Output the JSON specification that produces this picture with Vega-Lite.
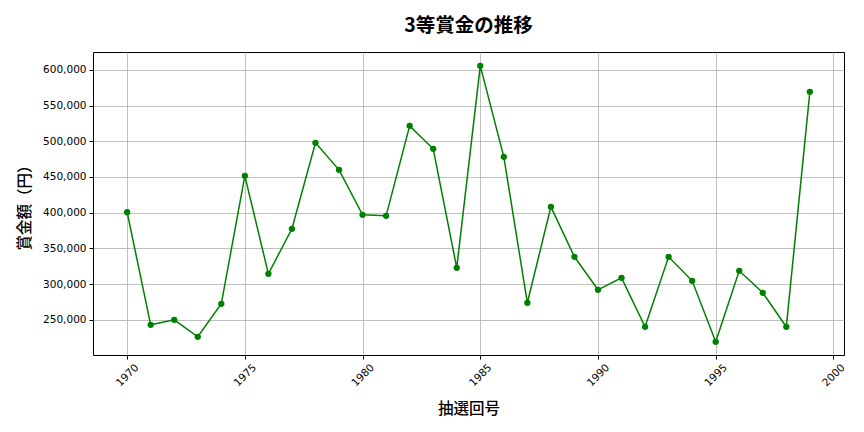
{
  "$schema": "https://vega.github.io/schema/vega-lite/v6.json",
  "autosize": {"type": "none"},
  "padding": {"left": 93, "top": 52, "right": 20, "bottom": 77},
  "width": 751,
  "height": 303,
  "background": "white",
  "title": {
    "text": "3等賞金の推移",
    "font": "Noto Sans CJK JP",
    "fontSize": 19.5,
    "fontWeight": "bold",
    "color": "#000",
    "offset": 16
  },
  "config": {
    "view": {"stroke": "#000", "strokeWidth": 1},
    "axis": {
      "labelFont": "DejaVu Sans",
      "labelFontSize": 10.5,
      "labelColor": "#000",
      "titleFont": "Noto Sans CJK JP",
      "titleFontSize": 15.5,
      "titleFontWeight": 500,
      "titleColor": "#000",
      "gridColor": "#b0b0b0",
      "gridWidth": 0.8,
      "gridOpacity": 1,
      "tickColor": "#000",
      "tickSize": 4,
      "domain": false
    }
  },
  "data": {
    "values": [
      {"draw": 1970, "prize": 400600},
      {"draw": 1971, "prize": 243000},
      {"draw": 1972, "prize": 250000},
      {"draw": 1973, "prize": 226200},
      {"draw": 1974, "prize": 272400},
      {"draw": 1975, "prize": 451600},
      {"draw": 1976, "prize": 314400},
      {"draw": 1977, "prize": 377400},
      {"draw": 1978, "prize": 497800},
      {"draw": 1979, "prize": 460000},
      {"draw": 1980, "prize": 397000},
      {"draw": 1981, "prize": 395600},
      {"draw": 1982, "prize": 521600},
      {"draw": 1983, "prize": 489400},
      {"draw": 1984, "prize": 322800},
      {"draw": 1985, "prize": 605600},
      {"draw": 1986, "prize": 478200},
      {"draw": 1987, "prize": 273800},
      {"draw": 1988, "prize": 408200},
      {"draw": 1989, "prize": 338200},
      {"draw": 1990, "prize": 292000},
      {"draw": 1991, "prize": 308800},
      {"draw": 1992, "prize": 240200},
      {"draw": 1993, "prize": 338200},
      {"draw": 1994, "prize": 304600},
      {"draw": 1995, "prize": 219200},
      {"draw": 1996, "prize": 318600},
      {"draw": 1997, "prize": 287800},
      {"draw": 1998, "prize": 240200},
      {"draw": 1999, "prize": 569200}
    ]
  },
  "encoding": {
    "x": {
      "field": "draw",
      "type": "quantitative",
      "scale": {"domain": [1968.55, 2000.45], "nice": false, "zero": false},
      "axis": {
        "title": "抽選回号",
        "values": [1970, 1975, 1980, 1985, 1990, 1995, 2000],
        "format": "d",
        "labelAngle": -45,
        "labelAlign": "center",
        "labelBaseline": "middle",
        "labelPadding": 16,
        "titlePadding": 13
      }
    },
    "y": {
      "field": "prize",
      "type": "quantitative",
      "scale": {"domain": [200700, 625000], "nice": false, "zero": false},
      "axis": {
        "title": "賞金額（円）",
        "values": [250000, 300000, 350000, 400000, 450000, 500000, 550000, 600000],
        "format": ",.0f",
        "labelPadding": 3,
        "titlePadding": 10
      }
    }
  },
  "layer": [
    {"mark": {"type": "line", "color": "#008000", "strokeWidth": 1.5}},
    {"mark": {"type": "point", "filled": true, "color": "#008000", "size": 40, "opacity": 1}}
  ]
}
